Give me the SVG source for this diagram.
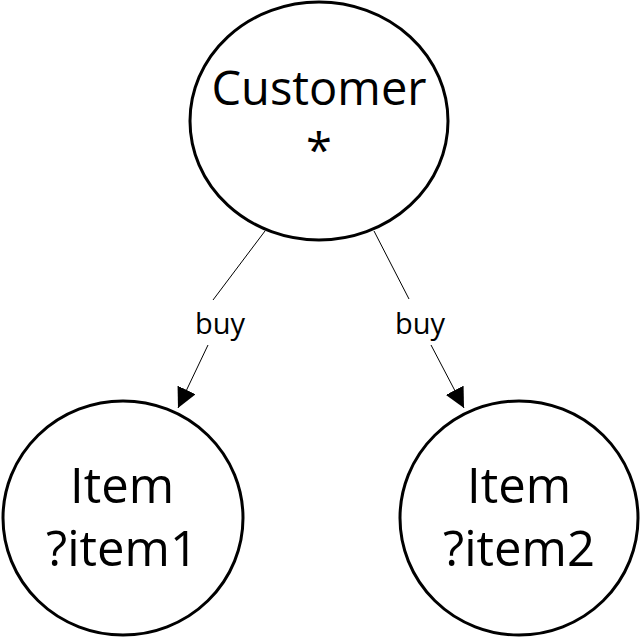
<svg xmlns="http://www.w3.org/2000/svg" width="640" height="640" viewBox="0 0 640 640">
<style>
.node{fill:#fff;stroke:#000;stroke-width:3}
.t{font-family:"Open Sans","Liberation Sans",sans-serif;fill:#000;text-anchor:middle}
.big{font-size:47px}
.itm{font-size:49px}
.lbl{font-size:29px}
.edge{stroke:#000;stroke-width:1;fill:none}
</style>
<defs>
<marker id="arr" viewBox="0 0 10 10" refX="10" refY="5" markerWidth="20" markerHeight="20" markerUnits="userSpaceOnUse" orient="auto">
<path d="M0,0 L10,5 L0,10 z" fill="#000"/>
</marker>
</defs>
<rect width="640" height="640" fill="#fff"/>
<g id="customer">
<ellipse class="node" cx="319" cy="121" rx="129" ry="119"/>
<text class="t big" x="319" y="105">Customer</text>
<text class="t big" x="319" y="167">*</text>
</g>
<g id="item1">
<ellipse class="node" cx="123" cy="518" rx="120" ry="117"/>
<text class="t itm" x="122" y="503">Item</text>
<text class="t itm" x="122" y="566">?item1</text>
</g>
<g id="item2">
<ellipse class="node" cx="519" cy="518" rx="119" ry="117"/>
<text class="t itm" x="519" y="503">Item</text>
<text class="t itm" x="519" y="566">?item2</text>
</g>
<g id="connectors">
<line class="edge" x1="265" y1="231" x2="213" y2="300"/>
<line class="edge" x1="208" y1="345" x2="178" y2="408" marker-end="url(#arr)"/>
<text class="t lbl" x="220" y="334">buy</text>
<line class="edge" x1="374" y1="231" x2="409" y2="299"/>
<line class="edge" x1="431" y1="345" x2="464" y2="408" marker-end="url(#arr)"/>
<text class="t lbl" x="420" y="334">buy</text>
</g>
</svg>
